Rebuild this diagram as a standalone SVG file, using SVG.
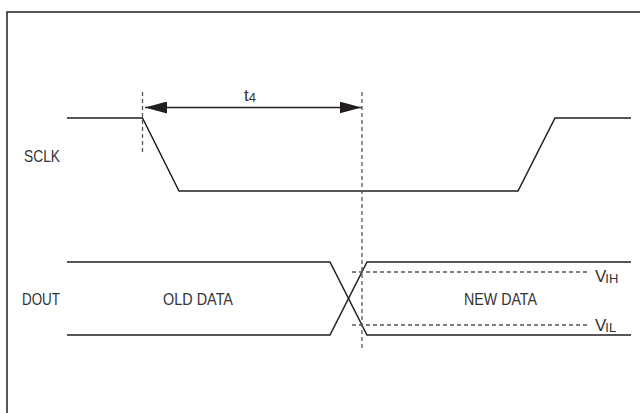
<svg xmlns="http://www.w3.org/2000/svg" width="640" height="413" viewBox="0 0 640 413">
<style>
.w{fill:none;stroke:#231f20;stroke-width:1.5}
.d{fill:none;stroke:#555;stroke-width:1.3;stroke-dasharray:4,3}
.t{font-family:"Liberation Sans",Arial,sans-serif;font-size:17px;fill:#333}
.s{font-size:13px}
</style>
<defs>
<marker id="ah" viewBox="0 0 22 12" refX="22" refY="6" markerWidth="22" markerHeight="12" markerUnits="userSpaceOnUse" orient="auto-start-reverse">
<path d="M0,0 L22,6 L0,12 Z" fill="#231f20"/>
</marker>
</defs>
<rect x="0" y="0" width="640" height="413" fill="#fff"/>
<g id="frame"><path class="w" d="M7,420 V12 H650" stroke-width="2"/></g>
<g id="sclk">
<path class="w" d="M67,118 H142.5 L179,191 H518 L555,118 H631"/>
<text class="t" x="24" y="162" textLength="36" lengthAdjust="spacingAndGlyphs">SCLK</text>
</g>
<g id="dout">
<path class="w" d="M67,262 H330 L367,335 H631"/>
<path class="w" d="M67,335 H330 L367,262 H631"/>
<text class="t" x="22" y="305" textLength="38" lengthAdjust="spacingAndGlyphs">DOUT</text>
<text class="t" x="163" y="305" textLength="70" lengthAdjust="spacingAndGlyphs">OLD DATA</text>
<text class="t" x="464" y="305" textLength="73" lengthAdjust="spacingAndGlyphs">NEW DATA</text>
</g>
<g id="levels">
<line class="d" x1="352" y1="272" x2="590" y2="272"/>
<line class="d" x1="352" y1="325" x2="590" y2="325"/>
<text class="t" x="595" y="282">V<tspan class="s" dy="1" dx="-1">IH</tspan></text>
<text class="t" x="595" y="331">V<tspan class="s" dy="1" dx="-1">IL</tspan></text>
</g>
<g id="connectors">
<line class="d" x1="142.5" y1="92" x2="142.5" y2="152"/>
<line class="d" x1="362" y1="92" x2="362" y2="348"/>
<line class="w" x1="145" y1="107.5" x2="361.5" y2="107.5" marker-start="url(#ah)" marker-end="url(#ah)"/>
<text class="t" x="244" y="101">t<tspan class="s" dy="1">4</tspan></text>
</g>
</svg>
